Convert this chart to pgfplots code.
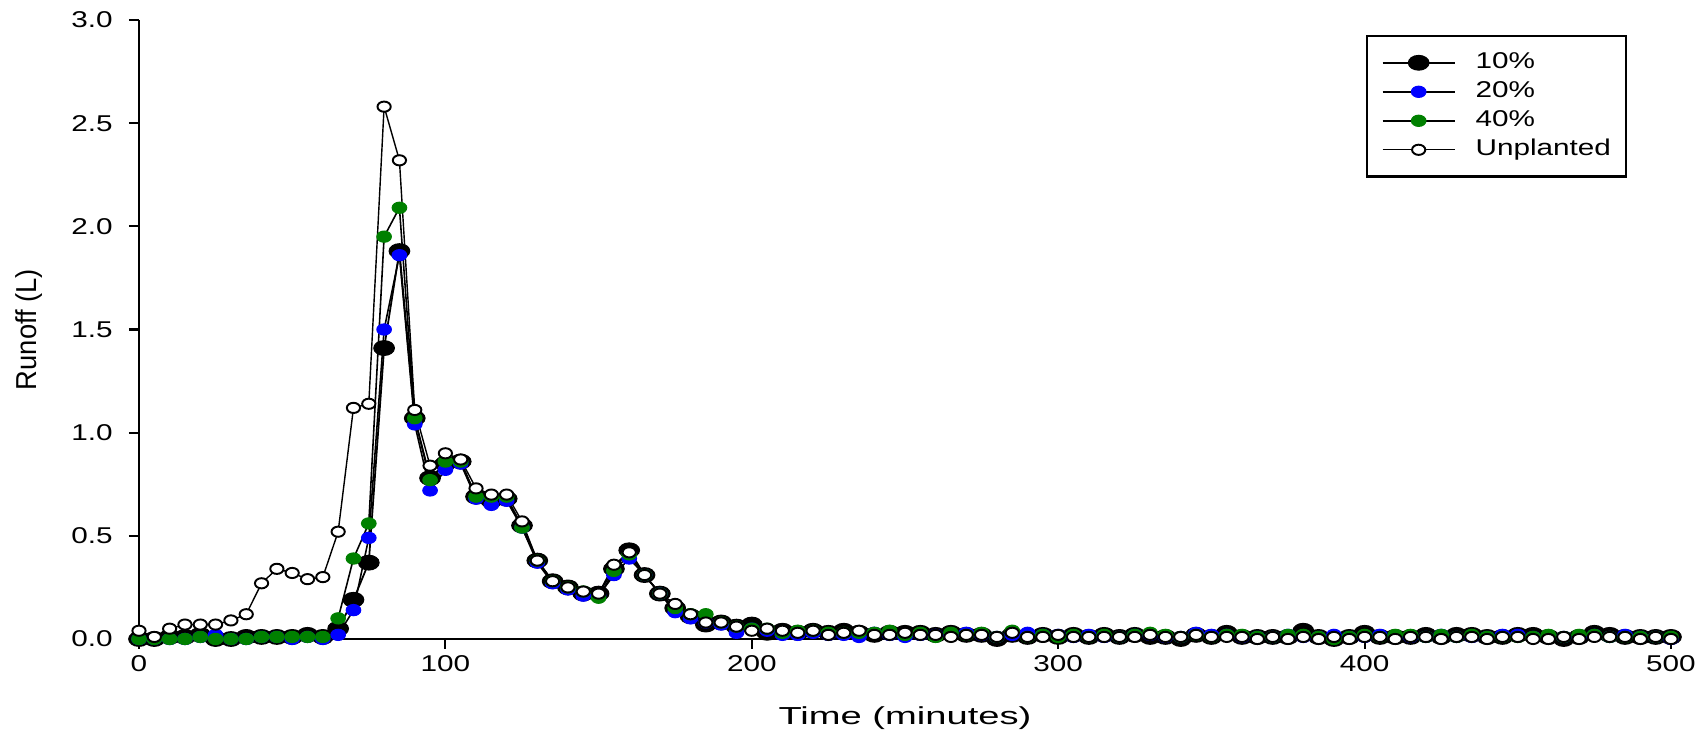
\documentclass[border=0pt]{standalone}
\usepackage{fontspec}
\setmainfont{Liberation Sans}
\newfontfamily\tickfont[FakeStretch=1.3]{Liberation Sans}
\newfontfamily\xlabfont[FakeStretch=1.55]{Liberation Sans}
\newfontfamily\ylabfont[FakeStretch=0.95]{Liberation Sans}
\newfontfamily\legfont[FakeStretch=1.3]{Liberation Sans}
\usepackage{pgfplots}
\usepackage{pgfplotstable}
\pgfplotsset{compat=1.18}
\definecolor{sgreen}{RGB}{0,128,0}
\definecolor{sblue}{RGB}{0,0,255}

\pgfplotstableread{
t a b c u
0 0.00 0.00 0.00 0.04
5 0.00 0.00 0.00 0.01
10 0.01 0.00 0.00 0.05
15 0.01 0.00 0.00 0.07
20 0.02 0.01 0.01 0.07
25 0.00 0.02 0.00 0.07
30 0.00 0.00 0.00 0.09
35 0.01 0.00 0.00 0.12
40 0.01 0.01 0.01 0.27
45 0.01 0.01 0.01 0.34
50 0.01 0.00 0.01 0.32
55 0.02 0.01 0.01 0.29
60 0.01 0.00 0.01 0.30
65 0.05 0.02 0.10 0.52
70 0.19 0.14 0.39 1.12
75 0.37 0.49 0.56 1.14
80 1.41 1.50 1.95 2.58
85 1.88 1.86 2.09 2.32
90 1.07 1.04 1.07 1.11
95 0.78 0.72 0.77 0.84
100 0.85 0.82 0.86 0.90
105 0.86 0.85 0.86 0.87
110 0.69 0.68 0.69 0.73
115 0.67 0.65 0.69 0.70
120 0.68 0.67 0.69 0.70
125 0.55 0.54 0.54 0.57
130 0.38 0.37 0.38 0.38
135 0.28 0.27 0.28 0.28
140 0.25 0.24 0.25 0.25
145 0.22 0.21 0.23 0.23
150 0.22 0.21 0.20 0.22
155 0.34 0.31 0.33 0.36
160 0.43 0.39 0.41 0.42
165 0.31 0.31 0.31 0.31
170 0.22 0.22 0.22 0.22
175 0.15 0.13 0.15 0.17
180 0.11 0.10 0.12 0.12
185 0.07 0.08 0.12 0.08
190 0.08 0.07 0.08 0.08
195 0.06 0.03 0.06 0.06
200 0.07 0.05 0.05 0.04
205 0.03 0.04 0.05 0.05
210 0.04 0.02 0.03 0.04
215 0.03 0.02 0.04 0.03
220 0.04 0.03 0.04 0.04
225 0.03 0.02 0.03 0.02
230 0.04 0.02 0.03 0.03
235 0.03 0.01 0.03 0.04
240 0.02 0.03 0.03 0.02
245 0.03 0.02 0.04 0.02
250 0.03 0.01 0.02 0.03
255 0.03 0.02 0.03 0.02
260 0.02 0.02 0.01 0.02
265 0.03 0.02 0.03 0.01
270 0.02 0.03 0.02 0.02
275 0.02 0.02 0.03 0.02
280 0.00 0.01 0.01 0.01
285 0.02 0.02 0.04 0.03
290 0.01 0.03 0.01 0.01
295 0.02 0.02 0.02 0.01
300 0.01 0.02 0.01 0.02
305 0.02 0.01 0.02 0.01
310 0.01 0.02 0.01 0.01
315 0.02 0.01 0.02 0.01
320 0.01 0.01 0.01 0.01
325 0.02 0.02 0.02 0.01
330 0.01 0.02 0.03 0.02
335 0.01 0.01 0.02 0.01
340 0.00 0.01 0.01 0.01
345 0.02 0.03 0.02 0.02
350 0.01 0.02 0.01 0.01
355 0.03 0.02 0.02 0.01
360 0.01 0.01 0.02 0.01
365 0.01 0.01 0.01 0.00
370 0.01 0.01 0.01 0.01
375 0.01 0.02 0.02 0.00
380 0.04 0.01 0.02 0.01
385 0.01 0.01 0.01 0.00
390 0.00 0.02 0.00 0.01
395 0.01 0.01 0.01 0.00
400 0.03 0.01 0.02 0.01
405 0.01 0.02 0.01 0.01
410 0.01 0.01 0.02 0.00
415 0.01 0.01 0.02 0.01
420 0.02 0.01 0.01 0.01
425 0.01 0.02 0.02 0.00
430 0.02 0.01 0.01 0.01
435 0.02 0.01 0.02 0.01
440 0.01 0.01 0.01 0.00
445 0.01 0.02 0.01 0.01
450 0.02 0.02 0.01 0.01
455 0.02 0.01 0.01 0.00
460 0.01 0.01 0.02 0.00
465 0.00 0.01 0.01 0.01
470 0.01 0.01 0.02 0.00
475 0.03 0.02 0.02 0.01
480 0.02 0.01 0.01 0.01
485 0.01 0.02 0.01 0.01
490 0.01 0.01 0.01 0.00
495 0.01 0.01 0.01 0.01
500 0.01 0.00 0.01 0.00
}\runoff

\begin{document}
\begin{tikzpicture}
\useasboundingbox (-1.39,-1.00) rectangle (15.66,6.39);
\begin{axis}[
  scale only axis, width=15.32cm, height=6.19cm,
  xmin=0, xmax=500, ymin=0, ymax=3,
  clip=false,
  axis lines=left,
  axis line style={-, line width=0.6pt},
  xtick={0,100,200,300,400,500},
  ytick={0,0.5,1,1.5,2,2.5,3},
  tick align=outside,
  major tick length=1mm,
  tick style={black, line width=0.6pt},
  /pgf/number format/assume math mode=true,
  ticklabel style={font=\tickfont\fontsize{6.5}{7.5}\selectfont},
  yticklabel style={/pgf/number format/.cd, fixed, fixed zerofill, precision=1, /tikz/.cd, xshift=-0.4mm},
  xticklabel style={yshift=0.6mm},
  xlabel={Time (minutes)},
  xlabel style={at={(axis description cs:0.5,0)}, anchor=base, yshift=-8.6mm, inner sep=0pt, font=\xlabfont\fontsize{7}{8}\selectfont},
  ylabel={Runoff (L)},
  ylabel style={at={(axis description cs:-0.0715,0.5)}, anchor=center, font=\ylabfont\fontsize{8.2}{9}\selectfont},
  legend style={at={(axis description cs:0.9713,0.9758)}, anchor=north east,
    draw=black, line width=0.6pt, inner xsep=1.5mm, inner ysep=1.65mm,
    font=\legfont\fontsize{6.5}{7}\selectfont, row sep=0.85mm, column sep=2mm,
    nodes={inner sep=0pt, text height=1.6mm, text depth=0.45mm},
    cells={anchor=west}},
  legend image code/.code={\draw[mark repeat=2,mark phase=2] plot coordinates {(0mm,0mm) (3.6mm,0mm) (7.2mm,0mm)};},
]
\addplot[black, line width=0.5pt, mark=*, mark size=2.1pt,
  mark options={xscale=1.4, fill=black, draw=black, line width=0.3pt}]
  table[x=t, y=a] {\runoff};
\addlegendentry{10\%}
\addplot[black, line width=0.45pt, mark=*, mark size=1.6pt,
  mark options={xscale=1.3, fill=sblue, draw=sblue, line width=0.3pt}]
  table[x=t, y=b] {\runoff};
\addlegendentry{20\%}
\addplot[black, line width=0.45pt, mark=*, mark size=1.6pt,
  mark options={xscale=1.3, fill=sgreen, draw=sgreen, line width=0.3pt}]
  table[x=t, y=c] {\runoff};
\addlegendentry{40\%}
\addplot[black, line width=0.4pt, mark=*, mark size=1.45pt,
  mark options={xscale=1.3, fill=white, draw=black, line width=0.55pt}]
  table[x=t, y=u] {\runoff};
\addlegendentry{Unplanted}
\end{axis}
\end{tikzpicture}
\end{document}
